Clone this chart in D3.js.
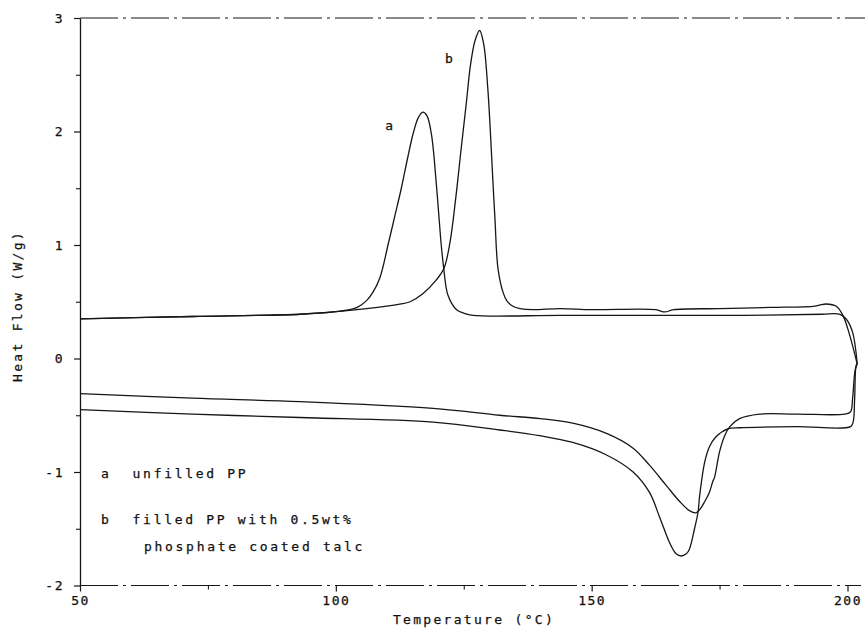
<!DOCTYPE html>
<html>
<head>
<meta charset="utf-8">
<script src="https://cdn.jsdelivr.net/npm/d3@7"></script>
<style>
  html, body { margin: 0; padding: 0; background: #fff; }
  svg { display: block; }
  text { font-family: "DejaVu Sans Mono", "Liberation Mono", monospace; fill: #111; stroke: #111; stroke-width: 0.25; }
</style>
</head>
<body>
<svg id="chart" width="865" height="629"></svg>
<script>
// ---------------- data ----------------
const xTicks = [50, 100, 150, 200];
const xMinorTicks = [75, 125, 175];
const yTicks = [-2, -1, 0, 1, 2, 3];
const yMinorTicks = [-1.5, -0.5, 0.5, 1.5, 2.5];

// Cooling traces (crystallisation exotherm, upper), ordered from 202 °C back to 50 °C
const coolA = [
  [201.9, -0.05], [201.0, 0.23], [199.7, 0.35], [198.4, 0.39], [195, 0.39], [180, 0.38],
  [160, 0.38], [143.8, 0.38], [126.8, 0.38], [125, 0.40], [123.6, 0.43], [121.9, 0.56],
  [121.1, 0.79], [120.6, 1.0], [120.1, 1.28], [119.6, 1.56], [118.7, 1.97], [117.8, 2.14],
  [117.0, 2.17], [116.1, 2.12], [115.1, 1.98], [114.0, 1.76], [112.8, 1.50], [111.5, 1.25],
  [110.2, 1.0], [108.6, 0.71], [107.2, 0.58], [106, 0.51], [104.2, 0.45],
  [102.7, 0.43], [99.5, 0.41], [93, 0.39], [72, 0.37], [50, 0.35]
];
const coolB = [
  [201.9, -0.05], [200.4, 0.21], [199.1, 0.38], [197.8, 0.46], [195.8, 0.48], [194.5, 0.47],
  [193.2, 0.46], [185, 0.45], [175, 0.44], [166, 0.43], [164.3, 0.41], [162.5, 0.43],
  [150, 0.43], [143.8, 0.44], [138.5, 0.43], [136, 0.44], [134.6, 0.46], [133.4, 0.51],
  [132.7, 0.58], [131.7, 0.79], [131.1, 1.23], [130.7, 1.56], [130.2, 2.0], [129.7, 2.38],
  [128.9, 2.77], [128.1, 2.89], [127.2, 2.80], [126.3, 2.58], [125.5, 2.25], [124.5, 1.85],
  [123.4, 1.40], [122.3, 1.02], [121.1, 0.79], [119.6, 0.69], [117, 0.57], [114.5, 0.50],
  [112.5, 0.48], [106, 0.44], [99.5, 0.41], [93, 0.39], [72, 0.37], [50, 0.35]
];

// Heating traces (melting endotherm, lower), ordered from 50 °C up to 202 °C
const heatB = [
  [50, -0.31], [72, -0.35], [93, -0.38], [119, -0.44], [132, -0.50], [140, -0.53],
  [146.3, -0.57], [152.9, -0.66], [158.1, -0.79], [161.3, -0.94], [164.6, -1.12],
  [167.2, -1.26], [169.1, -1.34], [170.4, -1.36], [171.3, -1.32], [172.1, -1.26],
  [173.0, -1.18], [173.7, -1.08], [174.0, -1.05], [175.0, -0.82], [176.0, -0.68],
  [177.0, -0.60], [178.9, -0.53], [182.8, -0.49], [190, -0.49], [199.5, -0.49],
  [200.6, -0.47], [201.0, -0.35], [201.5, -0.10], [201.9, -0.05]
];
const heatA = [
  [50, -0.45], [72, -0.49], [93, -0.52], [119, -0.56], [132, -0.63], [139.8, -0.68],
  [146.3, -0.74], [152.9, -0.85], [158.1, -1.00], [161.3, -1.18], [163.3, -1.40],
  [165.3, -1.63], [166.5, -1.72], [167.5, -1.74], [168.5, -1.72], [169.1, -1.68],
  [170.1, -1.50], [170.8, -1.35], [171.1, -1.21], [172.1, -0.91], [173.0, -0.78],
  [174.3, -0.69], [176.6, -0.62], [178.9, -0.61], [190, -0.60], [200.6, -0.60],
  [201.1, -0.56], [201.4, -0.35], [201.7, -0.06], [201.9, -0.05]
];

const curveLabels = [
  { text: "a", t: 110.4, w: 2.01 },
  { text: "b", t: 122.1, w: 2.60 }
];
const legendLines = [
  { text: "a  unfilled PP", x: 101, y: 478 },
  { text: "b  filled PP with 0.5wt%", x: 101, y: 524 },
  { text: "phosphate coated talc", x: 144, y: 551 }
];
const xTitle = "Temperature (°C)";
const yTitle = "Heat Flow (W/g)";

// ---------------- drawing ----------------
const svg = d3.select("#chart");
const W = 865, H = 629;
const x = d3.scaleLinear().domain([50, 200]).range([80, 847.5]);
const y = d3.scaleLinear().domain([-2, 3]).range([585.5, 18]);

const ink = "#161616";

// frame: top and bottom borders (plotter dash-dot look), left axis solid
svg.append("line")
  .attr("x1", x(50)).attr("x2", W).attr("y1", y(3)).attr("y2", y(3))
  .attr("stroke", ink).attr("stroke-width", 1.2)
  .attr("stroke-dasharray", "38 5 3 5");
svg.append("line")
  .attr("x1", x(50)).attr("x2", W - 4).attr("y1", y(-2)).attr("y2", y(-2))
  .attr("stroke", ink).attr("stroke-width", 1.2)
  .attr("stroke-dasharray", "38 5 3 5");

// y axis
const yAxis = d3.axisLeft(y).tickValues(yTicks).tickSize(6).tickSizeOuter(0)
  .tickPadding(10).tickFormat(d => String(d));
const gy = svg.append("g").attr("transform", `translate(${x(50)},0)`).call(yAxis);
gy.select(".domain").attr("stroke", ink).attr("stroke-width", 1.3);
gy.selectAll(".tick line").attr("stroke", ink).attr("stroke-width", 1.2);
gy.selectAll(".tick text").attr("font-size", 13).attr("letter-spacing", 1.5)
  .attr("font-family", "DejaVu Sans Mono").attr("fill", ink);
const gyMinor = svg.append("g").attr("transform", `translate(${x(50)},0)`)
  .call(d3.axisLeft(y).tickValues(yMinorTicks).tickSize(4).tickSizeOuter(0).tickFormat(""));
gyMinor.select(".domain").remove();
gyMinor.selectAll(".tick line").attr("stroke", ink).attr("stroke-width", 1.1);

// x axis
const xAxis = d3.axisBottom(x).tickValues(xTicks).tickSize(6).tickSizeOuter(0)
  .tickPadding(4).tickFormat(d => String(d));
const gx = svg.append("g").attr("transform", `translate(0,${y(-2)})`).call(xAxis);
gx.select(".domain").remove();
gx.selectAll(".tick line").attr("stroke", ink).attr("stroke-width", 1.2);
gx.selectAll(".tick text").attr("font-size", 13).attr("letter-spacing", 1.5)
  .attr("font-family", "DejaVu Sans Mono").attr("fill", ink);
const gxMinor = svg.append("g").attr("transform", `translate(0,${y(-2)})`)
  .call(d3.axisBottom(x).tickValues(xMinorTicks).tickSize(4).tickSizeOuter(0).tickFormat(""));
gxMinor.select(".domain").remove();
gxMinor.selectAll(".tick line").attr("stroke", ink).attr("stroke-width", 1.1);

// axis titles
svg.append("text")
  .attr("x", 474).attr("y", 624)
  .attr("text-anchor", "middle").attr("font-size", 13).attr("letter-spacing", 2.3)
  .text(xTitle);
svg.append("text")
  .attr("transform", "translate(22,306) rotate(-90)")
  .attr("text-anchor", "middle").attr("font-size", 13).attr("letter-spacing", 2.3)
  .text(yTitle);

// curves
const line = d3.line()
  .x(d => x(d[0])).y(d => y(d[1]))
  .curve(d3.curveCatmullRom.alpha(0.5));
[coolA, coolB, heatA, heatB].forEach(series => {
  svg.append("path")
    .datum(series)
    .attr("d", line)
    .attr("fill", "none")
    .attr("stroke", ink)
    .attr("stroke-width", 1.3)
    .attr("stroke-linejoin", "round");
});

// curve labels
curveLabels.forEach(l => {
  svg.append("text")
    .attr("x", x(l.t)).attr("y", y(l.w))
    .attr("text-anchor", "middle").attr("font-size", 13)
    .text(l.text);
});

// legend text inside plot
legendLines.forEach(l => {
  svg.append("text")
    .attr("x", l.x).attr("y", l.y)
    .attr("font-size", 13).attr("letter-spacing", 2.7)
    .attr("xml:space", "preserve").style("white-space", "pre")
    .text(l.text);
});
</script>
</body>
</html>
